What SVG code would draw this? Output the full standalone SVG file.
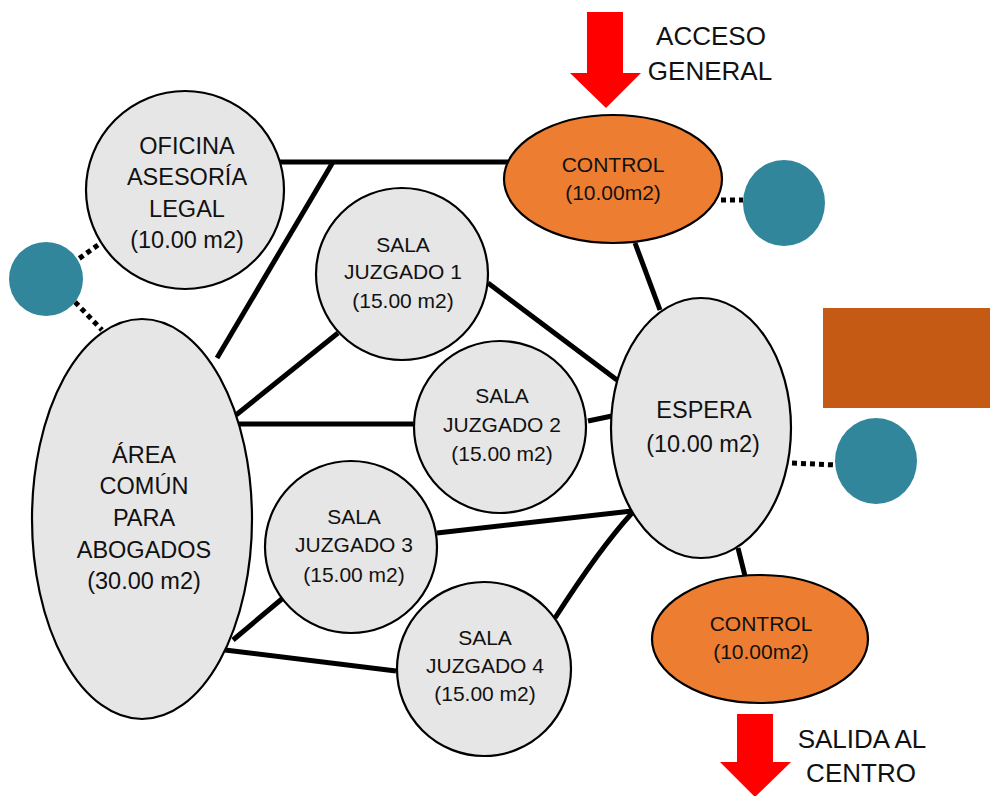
<svg xmlns="http://www.w3.org/2000/svg" width="990" height="796" viewBox="0 0 990 796">
<style>
.room{fill:#E6E6E6;stroke:#000;stroke-width:2.2}
.ctrl{fill:#ED7D31;stroke:#000;stroke-width:2.2}
.teal{fill:#31869C}
.link{stroke:#000;stroke-width:5;fill:none}
.dot{stroke:#000;stroke-width:5;stroke-dasharray:5 4;fill:none}
text{font-family:"Liberation Sans",Arial,Helvetica,sans-serif;fill:#111;text-anchor:middle}
.big{font-size:23.5px}
.mid{font-size:21px}
.lbl{font-size:26px}
.arrow{fill:#FF0000}
</style>
<rect width="990" height="796" fill="#FFFFFF"/>
<g id="connectors">
<line class="link" x1="280" y1="162" x2="508" y2="162"/>
<line class="link" x1="217" y1="358" x2="333" y2="162"/>
<line class="link" x1="236" y1="415" x2="338" y2="333"/>
<line class="link" x1="237" y1="424" x2="413" y2="424"/>
<line class="link" x1="233" y1="640" x2="283" y2="598"/>
<line class="link" x1="225" y1="650" x2="396" y2="671"/>
<line class="link" x1="488" y1="283" x2="617" y2="380"/>
<line class="link" x1="588" y1="421" x2="612" y2="416"/>
<line class="link" x1="437" y1="533" x2="632" y2="511"/>
<path class="link" d="M555,618 Q600,548 632,513"/>
<line class="link" x1="635" y1="243" x2="660" y2="310"/>
<line class="link" x1="738" y1="548" x2="745" y2="576"/>
<line class="dot" x1="98" y1="245" x2="77" y2="260"/>
<line class="dot" x1="75" y1="302" x2="102" y2="330"/>
<line class="dot" x1="721" y1="200" x2="743" y2="200"/>
<line class="dot" x1="792" y1="463" x2="836" y2="465"/>
</g>
<g id="acceso">
<polygon class="arrow" points="587,12 623,12 623,73 641,73 606,108 570,73 587,73"/>
<text class="lbl" x="711" y="45">ACCESO</text>
<text class="lbl" x="710" y="80">GENERAL</text>
</g>
<g id="salida">
<polygon class="arrow" points="737,714 773,714 773,762 791,762 755,797 720,762 737,762"/>
<text class="lbl" x="862" y="748">SALIDA AL</text>
<text class="lbl" x="861" y="782">CENTRO</text>
</g>
<g id="oficina">
<circle class="room" cx="185" cy="190" r="99"/>
<text class="big" x="187" y="154">OFICINA</text>
<text class="big" x="187" y="185">ASESORÍA</text>
<text class="big" x="187" y="217">LEGAL</text>
<text class="big" x="187" y="248">(10.00 m2)</text>
</g>
<g id="teal-left">
<circle class="teal" cx="46" cy="279" r="37"/>
</g>
<g id="area-comun">
<ellipse class="room" cx="142" cy="519" rx="110" ry="200"/>
<text class="big" x="144" y="463">ÁREA</text>
<text class="big" x="144" y="494">COMÚN</text>
<text class="big" x="144" y="526">PARA</text>
<text class="big" x="144" y="558">ABOGADOS</text>
<text class="big" x="144" y="589">(30.00 m2)</text>
</g>
<g id="sala1">
<circle class="room" cx="402" cy="274" r="86"/>
<text class="mid" x="403" y="252">SALA</text>
<text class="mid" x="403" y="279">JUZGADO 1</text>
<text class="mid" x="403" y="308">(15.00 m2)</text>
</g>
<g id="sala2">
<circle class="room" cx="500" cy="427" r="86"/>
<text class="mid" x="502" y="403">SALA</text>
<text class="mid" x="502" y="432">JUZGADO 2</text>
<text class="mid" x="502" y="461">(15.00 m2)</text>
</g>
<g id="sala3">
<circle class="room" cx="351" cy="547" r="86"/>
<text class="mid" x="354" y="524">SALA</text>
<text class="mid" x="354" y="552">JUZGADO 3</text>
<text class="mid" x="354" y="582">(15.00 m2)</text>
</g>
<g id="sala4">
<circle class="room" cx="484" cy="669" r="87"/>
<text class="mid" x="485" y="645">SALA</text>
<text class="mid" x="485" y="673">JUZGADO 4</text>
<text class="mid" x="485" y="701">(15.00 m2)</text>
</g>
<g id="control-top">
<ellipse class="ctrl" cx="613" cy="179" rx="109" ry="64"/>
<text class="mid" x="613" y="172">CONTROL</text>
<text class="mid" x="613" y="200">(10.00m2)</text>
</g>
<g id="teal-top">
<ellipse class="teal" cx="784" cy="203" rx="41" ry="43"/>
</g>
<g id="espera">
<ellipse class="room" cx="701" cy="428" rx="90" ry="130"/>
<text class="big" x="704" y="418">ESPERA</text>
<text class="big" x="703" y="452">(10.00 m2)</text>
</g>
<g id="orange-block">
<rect x="823" y="308" width="167" height="100" fill="#C45A13"/>
</g>
<g id="teal-right">
<ellipse class="teal" cx="876" cy="461" rx="41" ry="43"/>
</g>
<g id="control-bottom">
<ellipse class="ctrl" cx="760" cy="639" rx="108" ry="64"/>
<text class="mid" x="761" y="631">CONTROL</text>
<text class="mid" x="761" y="659">(10.00m2)</text>
</g>
</svg>
